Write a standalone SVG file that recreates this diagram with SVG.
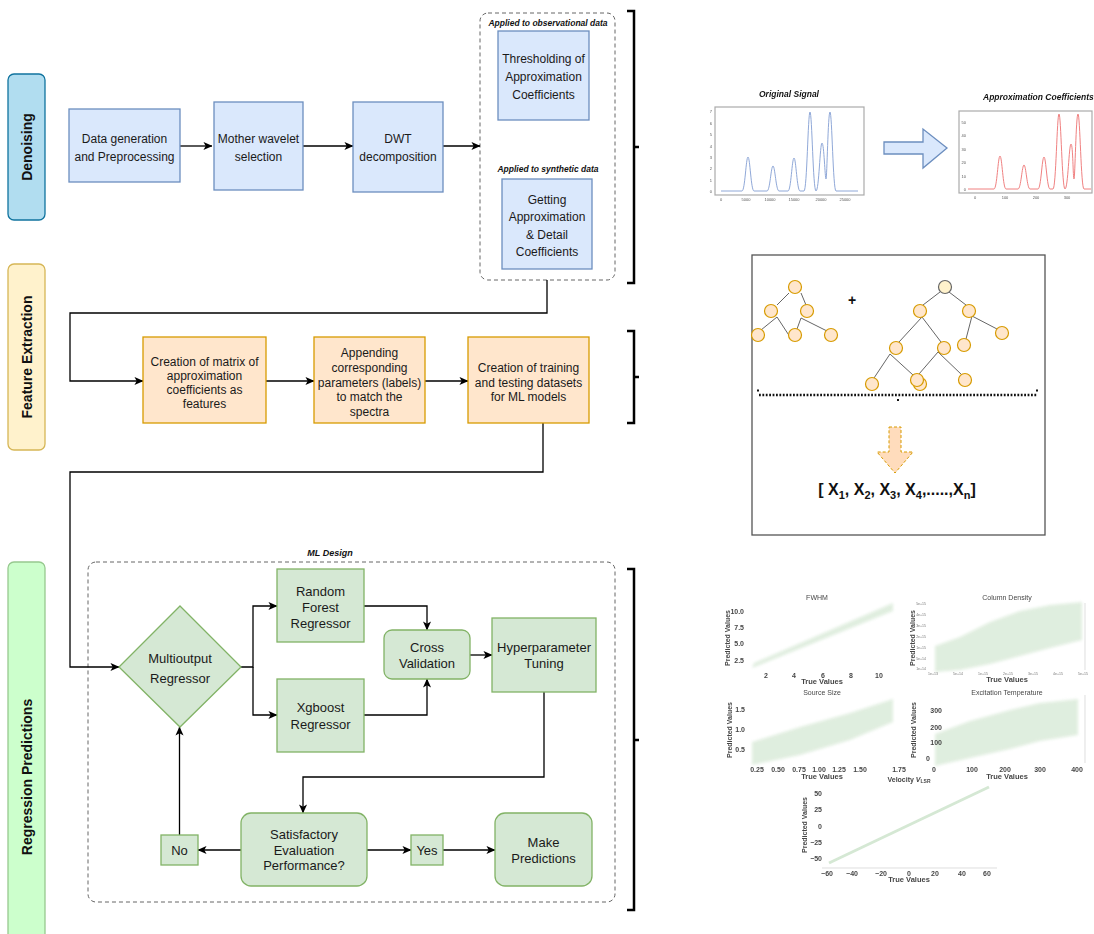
<svg xmlns="http://www.w3.org/2000/svg" width="1094" height="934" viewBox="0 0 1094 934">
  <defs>
    <style>
      .blue{fill:#dae8fc;stroke:#6c8ebf;stroke-width:1.3}
      .orange{fill:#ffe6cc;stroke:#d79b00;stroke-width:1.3}
      .green{fill:#d5e8d4;stroke:#82b366;stroke-width:1.3}
      .txt{font-family:"Liberation Sans",Arial,Helvetica,sans-serif;fill:#1a1a1a;text-anchor:middle}
      .t12{font-size:12px}
      .t13{font-size:13px}
      .cap{font-family:"Liberation Sans",Arial,sans-serif;font-size:8.5px;font-weight:bold;font-style:italic;fill:#111;text-anchor:middle}
      .lane{font-family:"Liberation Sans",Arial,sans-serif;font-size:14px;font-weight:bold;fill:#111;text-anchor:middle}
      .conn{fill:none;stroke:#000;stroke-width:1.3}
      .cont{fill:none;stroke:#666;stroke-width:1;stroke-dasharray:4 3}
      .brk{fill:none;stroke:#000;stroke-width:2.5}
      .tree{fill:none;stroke:#666;stroke-width:1}
      .leaf{fill:#ffe6cc;stroke:#d79b00;stroke-width:1.2}
      .frame{fill:#fff;stroke:#aaa;stroke-width:1.2}
      .tick{font-family:"Liberation Sans",Arial,sans-serif;font-size:4px;fill:#555;text-anchor:middle}
      .plot{opacity:0.99}
      .pt{font-family:"Liberation Sans",Arial,sans-serif;font-size:7px;fill:#444;text-anchor:middle}
      .pl{font-family:"Liberation Sans",Arial,sans-serif;font-size:7px;font-weight:bold;fill:#444;text-anchor:middle}
      .pr{font-family:"Liberation Sans",Arial,sans-serif;font-size:7px;font-weight:bold;fill:#444;text-anchor:end}
      .tiny{font-family:"Liberation Sans",Arial,sans-serif;font-size:3.5px;fill:#777;text-anchor:middle}
      .cloud{fill:#d5e8d4;opacity:0.75}
      .spine{stroke:#ddd;stroke-width:1;fill:none}
    </style>
    <marker id="arr" viewBox="0 0 10 10" refX="9.5" refY="5" markerWidth="9" markerHeight="9" markerUnits="userSpaceOnUse" orient="auto">
      <path d="M0,0.5 L10,5 L0,9.5 L2.5,5 z" fill="#000"/>
    </marker>
    <filter id="soft" x="-10%" y="-10%" width="120%" height="120%">
      <feGaussianBlur stdDeviation="1.6"/>
    </filter>
  </defs>

  <rect width="1094" height="934" fill="#fff"/>

  <!-- swimlane labels -->
  <g id="lane-denoising">
    <rect x="8" y="74" width="37" height="146" rx="6" fill="#b1ddf0" stroke="#10739e" stroke-width="1.3"/>
    <text class="lane" transform="translate(32,147) rotate(-90)">Denoising</text>
  </g>
  <g id="lane-feature">
    <rect x="8" y="264" width="37" height="186" rx="6" fill="#fff2cc" stroke="#d6b656" stroke-width="1.3"/>
    <text class="lane" transform="translate(32,357) rotate(-90)">Feature Extraction</text>
  </g>
  <g id="lane-regression">
    <rect x="8" y="562" width="37" height="430" rx="6" fill="#ccffcc" stroke="#97c98f" stroke-width="1.3"/>
    <text class="lane" transform="translate(32,777) rotate(-90)">Regression Predictions</text>
  </g>

  <!-- dashed containers -->
  <g id="wavelet-outputs">
    <rect class="cont" x="480" y="13" width="135" height="267" rx="8"/>
    <text class="cap" x="548" y="26">Applied to observational data</text>
    <text class="cap" x="548" y="172">Applied to synthetic data</text>
  </g>
  <g id="ml-design">
    <rect class="cont" x="88" y="562" width="527" height="340" rx="8"/>
    <text class="cap" x="330" y="556" style="font-size:9px">ML Design</text>
  </g>

  <!-- connectors -->
  <g id="connectors">
    <path class="conn" d="M180,146 H212" marker-end="url(#arr)"/>
    <path class="conn" d="M303,146 H353" marker-end="url(#arr)"/>
    <path class="conn" d="M443,146 H480" marker-end="url(#arr)"/>
    <path class="conn" d="M547,280 V313 H70 V381 H143" marker-end="url(#arr)"/>
    <path class="conn" d="M266,381 H314" marker-end="url(#arr)"/>
    <path class="conn" d="M425,381 H468" marker-end="url(#arr)"/>
    <path class="conn" d="M543,423 V472 H70 V667 H119" marker-end="url(#arr)"/>
    <path class="conn" d="M241,667 H253 V606 H277" marker-end="url(#arr)"/>
    <path class="conn" d="M253,667 V715 H277" marker-end="url(#arr)"/>
    <path class="conn" d="M364,606 H427 V630" marker-end="url(#arr)"/>
    <path class="conn" d="M364,715 H427 V679" marker-end="url(#arr)"/>
    <path class="conn" d="M470,655 H492" marker-end="url(#arr)"/>
    <path class="conn" d="M544,692 V777 H303 V813" marker-end="url(#arr)"/>
    <path class="conn" d="M241,850 H198" marker-end="url(#arr)"/>
    <path class="conn" d="M179.5,835 V727" marker-end="url(#arr)"/>
    <path class="conn" d="M367,850 H411" marker-end="url(#arr)"/>
    <path class="conn" d="M443,850 H495" marker-end="url(#arr)"/>
  </g>

  <!-- denoising nodes -->
  <g id="data-generation">
    <rect class="blue" x="69" y="109" width="111" height="73"/>
    <text class="txt t12" x="124.5" y="143">Data generation</text>
    <text class="txt t12" x="124.5" y="161">and Preprocessing</text>
  </g>
  <g id="mother-wavelet">
    <rect class="blue" x="214" y="102" width="89" height="88"/>
    <text class="txt t12" x="258.5" y="143">Mother wavelet</text>
    <text class="txt t12" x="258.5" y="161">selection</text>
  </g>
  <g id="dwt">
    <rect class="blue" x="353" y="102" width="90" height="90"/>
    <text class="txt t12" x="398" y="143">DWT</text>
    <text class="txt t12" x="398" y="161">decomposition</text>
  </g>
  <g id="thresholding">
    <rect class="blue" x="498" y="31" width="91" height="89"/>
    <text class="txt t12" x="543.5" y="63">Thresholding of</text>
    <text class="txt t12" x="543.5" y="81">Approximation</text>
    <text class="txt t12" x="543.5" y="99">Coefficients</text>
  </g>
  <g id="approx-detail">
    <rect class="blue" x="502" y="179" width="90" height="90"/>
    <text class="txt t12" x="547" y="204">Getting</text>
    <text class="txt t12" x="547" y="221">Approximation</text>
    <text class="txt t12" x="547" y="239">&amp; Detail</text>
    <text class="txt t12" x="547" y="256">Coefficients</text>
  </g>

  <!-- feature extraction nodes -->
  <g id="feature-matrix">
    <rect class="orange" x="143" y="337" width="123" height="86"/>
    <text class="txt t12" x="204.5" y="366">Creation of matrix of</text>
    <text class="txt t12" x="204.5" y="380">approximation</text>
    <text class="txt t12" x="204.5" y="394">coefficients as</text>
    <text class="txt t12" x="204.5" y="408">features</text>
  </g>
  <g id="append-labels">
    <rect class="orange" x="314" y="337" width="111" height="86"/>
    <text class="txt t12" x="369.5" y="357">Appending</text>
    <text class="txt t12" x="369.5" y="372">corresponding</text>
    <text class="txt t12" x="369.5" y="387">parameters (labels)</text>
    <text class="txt t12" x="369.5" y="401">to match the</text>
    <text class="txt t12" x="369.5" y="416">spectra</text>
  </g>
  <g id="train-test">
    <rect class="orange" x="468" y="337" width="121" height="86"/>
    <text class="txt t12" x="528.5" y="372">Creation of training</text>
    <text class="txt t12" x="528.5" y="387">and testing datasets</text>
    <text class="txt t12" x="528.5" y="401">for ML models</text>
  </g>

  <!-- regression nodes -->
  <g id="multioutput">
    <path class="green" d="M180,606 L241,667 L180,727 L119,667 Z"/>
    <text class="txt t13" x="180" y="662.5">Multioutput</text>
    <text class="txt t13" x="180" y="682.5">Regressor</text>
  </g>
  <g id="random-forest">
    <rect class="green" x="277" y="569" width="87" height="73"/>
    <text class="txt t13" x="320.5" y="595.5">Random</text>
    <text class="txt t13" x="320.5" y="611.5">Forest</text>
    <text class="txt t13" x="320.5" y="627.5">Regressor</text>
  </g>
  <g id="xgboost">
    <rect class="green" x="277" y="679" width="87" height="73"/>
    <text class="txt t13" x="320.5" y="711.5">Xgboost</text>
    <text class="txt t13" x="320.5" y="728.5">Regressor</text>
  </g>
  <g id="cross-validation">
    <rect class="green" x="384" y="630" width="86" height="49" rx="8"/>
    <text class="txt t13" x="427" y="651.5">Cross</text>
    <text class="txt t13" x="427" y="667.5">Validation</text>
  </g>
  <g id="hyperparameter">
    <rect class="green" x="492" y="618" width="104" height="74"/>
    <text class="txt t13" x="544" y="651.5">Hyperparameter</text>
    <text class="txt t13" x="544" y="667.5">Tuning</text>
  </g>
  <g id="evaluation">
    <rect class="green" x="241" y="813" width="126" height="73" rx="10"/>
    <text class="txt t13" x="304" y="838.5">Satisfactory</text>
    <text class="txt t13" x="304" y="854.5">Evaluation</text>
    <text class="txt t13" x="304" y="869.5">Performance?</text>
  </g>
  <g id="no">
    <rect class="green" x="161" y="835" width="37" height="30"/>
    <text class="txt t13" x="179.5" y="854.5">No</text>
  </g>
  <g id="yes">
    <rect class="green" x="411" y="835" width="32" height="30"/>
    <text class="txt t13" x="427" y="854.5">Yes</text>
  </g>
  <g id="predictions">
    <rect class="green" x="495" y="813" width="97" height="73" rx="10"/>
    <text class="txt t13" x="543.5" y="846.5">Make</text>
    <text class="txt t13" x="543.5" y="862.5">Predictions</text>
  </g>

  <!-- section brackets -->
  <g id="brackets">
    <path class="brk" d="M627,11 H634 V283 H627 M634,147 H639"/>
    <path class="brk" d="M627,331 H634 V423 H627 M634,377 H639"/>
    <path class="brk" d="M627,569 H634 V910 H627 M634,740 H639"/>
  </g>

  <!-- signal panels -->
  <g id="original-signal" class="plot">
    <text class="cap" x="789" y="97">Original Signal</text>
    <rect class="frame" x="715" y="107" width="149" height="88"/>
    <g class="tick" style="text-anchor:end">
      <text x="712" y="192.5">0</text><text x="712" y="181.5">1</text><text x="712" y="169.5">2</text><text x="712" y="158.5">3</text>
      <text x="712" y="147.5">4</text><text x="712" y="135.5">5</text><text x="712" y="124.5">6</text><text x="712" y="112.5">7</text>
    </g>
    <g class="tick">
      <text x="721" y="201">0</text><text x="746" y="201">5000</text><text x="770" y="201">10000</text>
      <text x="794" y="201">15000</text><text x="821" y="201">20000</text><text x="845" y="201">25000</text>
    </g>
    <path fill="none" stroke="#8fa8d8" stroke-width="1" d="M721,191 L742,191 C745,191 746,157 748,157 C750,157 751,191 754,191 L767,191 C770,191 771,166 773,166 C775,166 776,191 779,191 L788,191 C791,191 792,158 794,158 C796,158 797,191 800,191 L804,191 C807,191 808,112 810,112 C812,112 813,191 816,191 C819,191 820,143 822,143 C824,143 825,179 826,179 C827,179 828,112 830,112 C832,112 833,191 836,191 L858,191"/>
  </g>
  <g id="signal-arrow">
    <path d="M884,142 H923 V129 L947,148 L923,168 V154 H884 Z" fill="#dae8fc" stroke="#6c8ebf" stroke-width="1.3"/>
  </g>
  <g id="approx-signal" class="plot">
    <text class="cap" x="983" y="100" style="text-anchor:start">Approximation Coefficients</text>
    <rect class="frame" x="959" y="111" width="133" height="82"/>
    <g class="tick" style="text-anchor:end">
      <text x="966" y="190.5">0</text><text x="966" y="177.5">10</text><text x="966" y="163.5">20</text>
      <text x="966" y="150.5">30</text><text x="966" y="136.5">40</text><text x="966" y="123.5">50</text>
    </g>
    <g class="tick">
      <text x="975" y="199">0</text><text x="1005" y="199">100</text><text x="1036" y="199">200</text><text x="1067" y="199">300</text>
    </g>
    <path fill="none" stroke="#f08080" stroke-width="1" d="M968,189 L994,189 C997,189 998,156 1000,156 C1002,156 1003,189 1006,189 L1018,189 C1021,189 1022,165 1024,165 C1026,165 1027,189 1030,189 L1038,189 C1041,189 1042,157 1044,157 C1046,157 1047,189 1050,189 L1053,189 C1056,189 1057,114 1059,114 C1061,114 1062,189 1065,189 C1068,189 1069,144 1071,144 C1073,144 1073,179 1074,179 C1075,179 1076,114 1078,114 C1080,114 1081,189 1084,189 L1091,189"/>
  </g>

  <!-- decision tree ensemble panel -->
  <g id="tree-panel">
    <rect x="752" y="255" width="293" height="280" fill="#fff" stroke="#555" stroke-width="1.3"/>
    <g class="tree">
      <path d="M789,293 L777,305 M801,293 L806,305 M777,317 L761,330 M777,317 L792,340 M801,318 L797,329 M801,318 L827,331"/>
      <path d="M940,292 L923,305 M949,292 L966,305 M922,317 L899,342 M922,317 L941,342 M972,316 L966,339 M972,316 L997,329 M890,354 L874,378 M890,354 L913,375 M938,352 L919,374 M938,352 L962,375"/>
    </g>
    <g>
      <circle class="leaf" cx="795" cy="287" r="6.5"/>
      <circle class="leaf" cx="771" cy="311" r="6.5"/>
      <circle class="leaf" cx="807" cy="311" r="6.5"/>
      <circle class="leaf" cx="758" cy="335" r="6.5"/>
      <circle class="leaf" cx="795" cy="335" r="6.5"/>
      <circle class="leaf" cx="831" cy="335" r="6.5"/>
      <circle cx="945" cy="287" r="6.5" fill="#fff2cc" stroke="#666" stroke-width="1.2"/>
      <circle class="leaf" cx="920" cy="311" r="6.5"/>
      <circle class="leaf" cx="969" cy="311" r="6.5"/>
      <circle class="leaf" cx="896" cy="348" r="6.5"/>
      <circle class="leaf" cx="944" cy="348" r="6.5"/>
      <circle class="leaf" cx="964" cy="345" r="6.5"/>
      <circle class="leaf" cx="1002" cy="333" r="6.5"/>
      <circle class="leaf" cx="872" cy="384" r="6.5"/>
      <circle class="leaf" cx="920" cy="384" r="6.5"/>
      <circle class="leaf" cx="917" cy="380" r="6.5"/>
      <circle class="leaf" cx="965" cy="380" r="6.5"/>
    </g>
    <text x="852" y="305" style="font-family:'Liberation Sans',Arial,sans-serif;font-size:14px;font-weight:bold;fill:#111;text-anchor:middle">+</text>
    <path d="M759,395 H1037" stroke="#111" stroke-width="2.5" stroke-dasharray="1.8 1.6" fill="none"/>
    <rect x="757" y="389.5" width="2" height="2" fill="#111"/>
    <rect x="1036" y="389.5" width="2" height="2" fill="#111"/>
    <rect x="897" y="399" width="2" height="2" fill="#111"/>
    <path d="M889,427 H901 V452 H913 L895,473 L877,452 H889 Z" fill="#ffdcbc" stroke="#d79b00" stroke-width="1" stroke-dasharray="3 2"/>
    <text x="897" y="495" style="font-family:'Liberation Sans',Arial,sans-serif;font-size:16px;font-weight:bold;fill:#111;text-anchor:middle">[ X<tspan dy="4" font-size="11">1</tspan><tspan dy="-4">, X</tspan><tspan dy="4" font-size="11">2</tspan><tspan dy="-4">, X</tspan><tspan dy="4" font-size="11">3</tspan><tspan dy="-4">, X</tspan><tspan dy="4" font-size="11">4</tspan><tspan dy="-4">,.....,X</tspan><tspan dy="4" font-size="11">n</tspan><tspan dy="-4">]</tspan></text>
  </g>

  <!-- regression result plots -->
  <g id="plot-fwhm" class="plot">
    <text class="pt" x="817" y="600">FWHM</text>
    <polygon class="cloud" filter="url(#soft)" points="752,668 754,663 893,603 893,611"/>
    <g class="pr">
      <text x="744" y="613.5">10.0</text><text x="744" y="629.5">7.5</text><text x="744" y="645.5">5.0</text><text x="744" y="662.5">2.5</text>
    </g>
    <text class="pl" transform="translate(729.5,638) rotate(-90)">Predicted Values</text>
    <g class="pl">
      <text x="766" y="677.5">2</text><text x="794" y="677.5">4</text><text x="823" y="677.5">6</text><text x="851" y="677.5">8</text><text x="879" y="677.5">10</text>
    </g>
    <text class="pl" x="822" y="684" style="font-size:7.5px">True Values</text>
  </g>
  <g id="plot-column-density" class="plot">
    <text class="pt" x="1007" y="600">Column Density</text>
    <polygon class="cloud" filter="url(#soft)" points="935,646 960,637 990,622 1020,611 1050,605 1082,602 1082,640 1050,648 1020,656 990,664 960,670 935,672"/>
    <path class="spine" d="M1085,603 V670"/>
    <g class="tiny" style="text-anchor:end">
      <text x="926" y="605">5e+15</text><text x="926" y="616">4e+15</text><text x="926" y="627">3e+15</text><text x="926" y="638">2e+15</text>
      <text x="926" y="649">1e+15</text><text x="926" y="660">5e+14</text><text x="926" y="670">1e+14</text>
    </g>
    <text class="pl" transform="translate(914.5,638) rotate(-90)">Predicted Values</text>
    <g class="tiny">
      <text x="933" y="675">1e+13</text><text x="958" y="675">5e+14</text><text x="983" y="675">1e+15</text><text x="1008" y="675">2e+15</text>
      <text x="1033" y="675">3e+15</text><text x="1058" y="675">4e+15</text><text x="1083" y="675">5e+15</text>
    </g>
    <text class="pl" x="1007" y="682" style="font-size:7.5px">True Values</text>
  </g>
  <g id="plot-source-size" class="plot">
    <text class="pt" x="822" y="695">Source Size</text>
    <polygon class="cloud" filter="url(#soft)" points="752,742 800,727 850,713 893,699 893,722 850,740 800,755 752,765"/>
    <g class="pr">
      <text x="745" y="711.5">1.5</text><text x="745" y="731.5">1.0</text><text x="745" y="751.5">0.5</text>
    </g>
    <text class="pl" transform="translate(731.5,730) rotate(-90)">Predicted Values</text>
    <g class="pl">
      <text x="757" y="771.5">0.25</text><text x="778" y="771.5">0.50</text><text x="799" y="771.5">0.75</text><text x="819" y="771.5">1.00</text>
      <text x="839" y="771.5">1.25</text><text x="860" y="771.5">1.50</text><text x="899" y="771.5">1.75</text>
    </g>
    <text class="pl" x="822" y="778.5" style="font-size:7.5px">True Values</text>
  </g>
  <g id="plot-excitation" class="plot">
    <text class="pt" x="1007" y="695">Excitation Temperature</text>
    <polygon class="cloud" filter="url(#soft)" points="935,734 970,721 1010,710 1040,703 1078,699 1078,735 1040,741 1010,749 970,758 935,766"/>
    <path class="spine" d="M1085,695 V763"/>
    <g class="pr">
      <text x="942" y="712.5">300</text><text x="942" y="729.5">200</text><text x="942" y="744.5">100</text><text x="930" y="760.5">0</text>
    </g>
    <text class="pl" transform="translate(915.5,730) rotate(-90)">Predicted Values</text>
    <g class="pl">
      <text x="934" y="771.5">0</text><text x="972" y="771.5">100</text><text x="1005" y="771.5">200</text><text x="1040" y="771.5">300</text><text x="1077" y="771.5">400</text>
    </g>
    <text class="pl" x="1007" y="778.5" style="font-size:7.5px">True Values</text>
  </g>
  <g id="plot-velocity" class="plot">
    <text class="pt" x="909" y="781.5" style="font-weight:bold">Velocity <tspan font-style="italic">V</tspan><tspan dy="1.5" font-size="5">LSR</tspan></text>
    <path d="M829,863 L989,787" stroke="#d5e8d4" stroke-width="3" fill="none"/>
    <path class="spine" d="M822,868 H997"/>
    <g class="pr">
      <text x="822" y="795.5">50</text><text x="822" y="811.5">25</text><text x="822" y="828.5">0</text><text x="822" y="844.5">−25</text><text x="822" y="860.5">−50</text>
    </g>
    <text class="pl" transform="translate(806.5,825) rotate(-90)">Predicted Values</text>
    <g class="pl">
      <text x="827" y="875.5">−60</text><text x="852" y="875.5">−40</text><text x="881" y="875.5">−20</text><text x="909" y="875.5">0</text>
      <text x="935" y="875.5">20</text><text x="962" y="875.5">40</text><text x="987" y="875.5">60</text>
    </g>
    <text class="pl" x="909" y="882" style="font-size:7.5px">True Values</text>
  </g>
</svg>
